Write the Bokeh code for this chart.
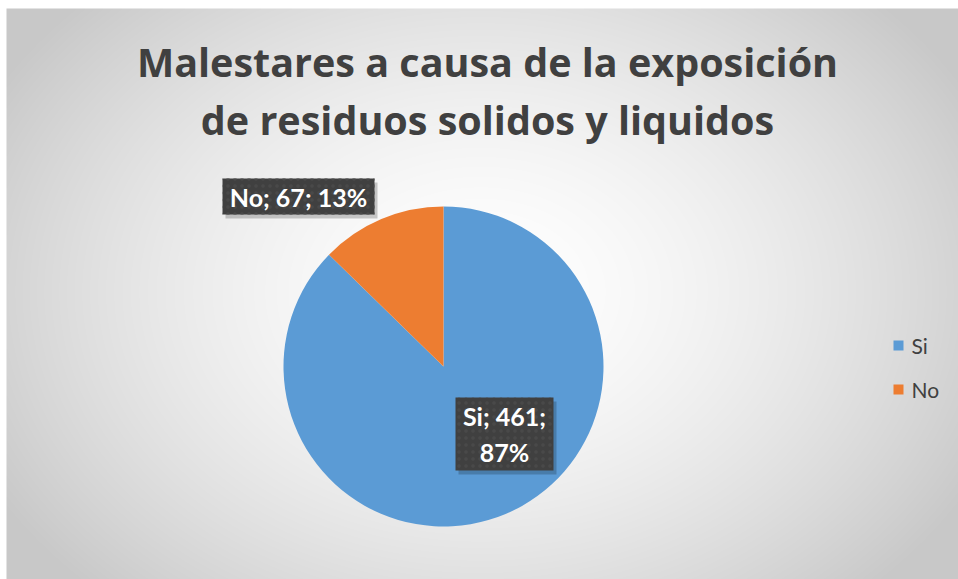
import numpy as np
from bokeh.plotting import figure
from bokeh.models import Range1d, ColumnDataSource
from bokeh.core.properties import value
from bokeh.embed import file_html
from bokeh.resources import INLINE

# ---- data ----
title_lines = ["Malestares a causa de la exposición", "de residuos solidos y liquidos"]
categories = ["Si", "No"]
counts = [461, 67]
colors = ["#5B9BD5", "#ED7D31"]

W, H = 958, 579
FONT = "Lato"
TFONT = "Open Sans"
TXT = "#404040"


def Y(y_img):
    return H - y_img


p = figure(width=W, height=H, output_backend="svg", toolbar_location=None,
           x_range=Range1d(0, W), y_range=Range1d(0, H),
           x_axis_location=None, y_axis_location=None, min_border=0,
           outline_line_color=None)
p.grid.visible = False
p.background_fill_color = "#ffffff"
p.border_fill_color = "#ffffff"

# background radial gradient (decoration) over the chart area
X0, Y0 = 6, 8
CW, CH = W - X0, H - Y0
yy, xx = np.mgrid[0:CH, 0:CW]
cx, cy = 480.0 - X0, CH - (292.0 - Y0)
d = np.sqrt(((xx - cx) / 560.0) ** 2 + ((yy - cy) / 420.0) ** 2)
d = np.clip(d, 0, 1)
g = (255 - 55 * d ** 1.6).astype(np.uint8)
img = np.empty((CH, CW), dtype=np.uint32)
v = img.view(dtype=np.uint8).reshape((CH, CW, 4))
v[:, :, 0] = g
v[:, :, 1] = g
v[:, :, 2] = g
v[:, :, 3] = 255
p.image_rgba(image=[img], x=X0, y=0, dw=CW, dh=CH)

# title
for i, line in enumerate(title_lines):
    p.text(x=[487], y=[Y(61 + 58 * i)], text=[line], text_align="center",
           text_baseline="middle", text_font=value(TFONT), text_font_style="bold",
           text_font_size="39.5px", text_color=TXT)

# pie
total = sum(counts)
fracs = [c / total for c in counts]
cx_p, cy_p, r = 443, Y(366), 160
a_no_end = np.pi / 2 + 2 * np.pi * fracs[1]
starts = [a_no_end, np.pi / 2]
ends = [np.pi / 2 + 2 * np.pi, a_no_end]
src = ColumnDataSource(dict(start=starts, end=ends, color=colors, cat=categories))
p.wedge(x=cx_p, y=cy_p, radius=r, start_angle="start", end_angle="end",
        fill_color="color", line_color=None, source=src)

# data labels
pcts = [round(100 * f) for f in fracs]
lab_no = f"{categories[1]}; {counts[1]}; {pcts[1]}%"
lab_si = f"{categories[0]}; {counts[0]};\n{pcts[0]}%"
boxes = [  # (cx, cy, w, h, text)
    (298, Y(196), 152, 36, lab_no),
    (504, Y(433.5), 98, 73, lab_si),
]
for bx, by, bw, bh, t in boxes:
    p.rect(x=[bx + 3], y=[by - 4], width=bw, height=bh, fill_color="#000000",
           fill_alpha=0.2, line_color=None)
    p.rect(x=[bx], y=[by], width=bw, height=bh, fill_color="#404040",
           line_color=None, hatch_pattern="dot", hatch_color="#494949",
           hatch_scale=7, hatch_alpha=1.0)
    p.text(x=[bx], y=[by], text=[t], text_align="center", text_baseline="middle",
           text_font=value(FONT), text_font_style="bold", text_font_size="25px",
           text_color="#ffffff", text_line_height=1.2)

# legend (manual)
leg_y = [Y(345), Y(389)]
p.scatter(x=[898, 898], y=leg_y, marker="square", size=10, color=colors, line_color=None)
p.text(x=[911, 911], y=leg_y, text=categories, text_baseline="middle",
       text_font=value(FONT), text_font_size="21px", text_color=TXT)

open("out.html", "w").write(file_html(p, INLINE))
